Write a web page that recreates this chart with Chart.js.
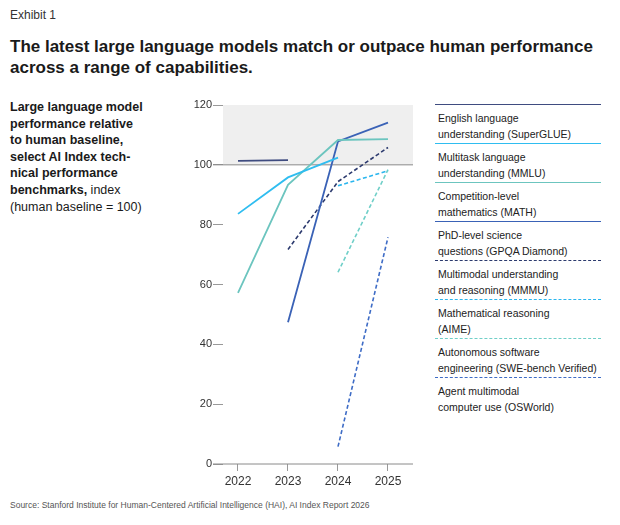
<!DOCTYPE html>
<html>
<head>
<meta charset="utf-8">
<script src="https://cdn.jsdelivr.net/npm/chart.js@4/dist/chart.umd.min.js"></script>
<style>
  body { margin: 0; background: #fff; font-family: "Liberation Sans", Arial, sans-serif; color: #222; }
  #page { position: relative; width: 620px; height: 525px; overflow: hidden; }
  .abs { position: absolute; }
  #exhibit { left: 10px; top: 8px; font-size: 12px; color: #333; }
  #title { left: 10px; top: 36px; width: 610px; font-size: 17px; font-weight: bold; line-height: 21px; color: #1a1a1a; }
  #sub { left: 10px; top: 99px; width: 175px; font-size: 12.5px; line-height: 16.6px; color: #1a1a1a; white-space: nowrap; }
  #sub b { font-weight: bold; }
  #chartBox { left: 180px; top: 90px; width: 240px; height: 410px; }
  #legend { left: 435px; top: 104px; width: 166px; }
  .item { height: 39px; box-sizing: border-box; padding: 5px 0 0 3px; font-size: 10.5px; line-height: 16px; color: #222; }
  #source { left: 10px; top: 500px; font-size: 8.5px; color: #555; }
</style>
</head>
<body>
<div id="page">
  <div id="exhibit" class="abs">Exhibit 1</div>
  <div id="title" class="abs">The latest large language models match or outpace human performance<br>across a range of capabilities.</div>
  <div id="sub" class="abs"><b>Large language model<br>performance relative<br>to human baseline,<br>select AI Index tech-<br>nical performance<br>benchmarks,</b> index<br>(human baseline = 100)</div>
  <div id="chartBox" class="abs"><canvas id="chart" width="240" height="410"></canvas></div>
  <div id="legend" class="abs"></div>
  <div id="source" class="abs">Source: Stanford Institute for Human-Centered Artificial Intelligence (HAI), AI Index Report 2026</div>
</div>
<script>
// данные
const years = [2022, 2023, 2024, 2025];
const yTicks = [0, 20, 40, 60, 80, 100, 120];
const baseline = 100;

const names = [
  'English language understanding (SuperGLUE)',
  'Multitask language understanding (MMLU)',
  'Competition-level mathematics (MATH)',
  'PhD-level science questions (GPQA Diamond)',
  'Multimodal understanding and reasoning (MMMU)',
  'Mathematical reasoning (AIME)',
  'Autonomous software engineering (SWE-bench Verified)',
  'Agent multimodal computer use (OSWorld)'
];
const legendLines = [
  ['English language', 'understanding (SuperGLUE)'],
  ['Multitask language', 'understanding (MMLU)'],
  ['Competition-level', 'mathematics (MATH)'],
  ['PhD-level science', 'questions (GPQA Diamond)'],
  ['Multimodal understanding', 'and reasoning (MMMU)'],
  ['Mathematical reasoning', '(AIME)'],
  ['Autonomous software', 'engineering (SWE-bench Verified)'],
  ['Agent multimodal', 'computer use (OSWorld)']
];

const superglue = [101.3, 101.6, null, null];
const mmlu      = [83.6, 95.8, 102.4, null];
const math      = [57.2, 93.3, 108.3, 108.6];
const gpqa      = [null, 47.4, 107.8, 114.1];
const mmmu      = [null, 71.7, 94.4, 105.8];
const aime      = [null, null, 93.0, 98.0];
const swebench  = [null, null, 64.1, 98.4];
const osworld   = [null, null, 5.8, 75.8];

const seriesValues = [superglue, mmlu, math, gpqa, mmmu, aime, swebench, osworld];
const colors = ['#3f4c80', '#2fbdf0', '#6cc5bf', '#3a62b6', '#2c3a6e', '#2ab6ee', '#6fcfc8', '#3e6cc6'];
const dashed = [false, false, false, false, true, true, true, true];

// легенда
const legendEl = document.getElementById('legend');
legendLines.forEach((lines, i) => {
  const div = document.createElement('div');
  div.className = 'item';
  div.style.borderTop = (dashed[i] ? '1.5px dashed ' : '1.5px solid ') + colors[i];
  div.innerHTML = lines.join('<br>');
  legendEl.appendChild(div);
});

// серая зона выше 100 и оси
const zonePlugin = {
  id: 'zone',
  beforeDatasetsDraw(chart) {
    const { ctx, chartArea, scales: { x, y } } = chart;
    const y100 = y.getPixelForValue(baseline);
    const yTop = y.getPixelForValue(120);
    ctx.save();
    ctx.fillStyle = '#efefef';
    ctx.fillRect(chartArea.left, yTop, chartArea.right - chartArea.left, y100 - yTop);
    ctx.strokeStyle = '#8a8a8a';
    ctx.lineWidth = 1;
    ctx.beginPath();
    ctx.moveTo(chartArea.left - 10, y100);
    ctx.lineTo(chartArea.right, y100);
    const y0 = y.getPixelForValue(0);
    ctx.moveTo(chartArea.left - 10, y0);
    ctx.lineTo(chartArea.right, y0);
    ctx.stroke();
    ctx.restore();
  }
};

const datasets = seriesValues.map((vals, i) => ({
  label: names[i],
  data: years.map((yr, j) => vals[j] == null ? null : { x: yr, y: vals[j] }).filter(p => p),
  borderColor: colors[i],
  backgroundColor: colors[i],
  borderWidth: dashed[i] ? 1.6 : 1.8,
  borderDash: dashed[i] ? [4, 2.5] : [],
  pointRadius: 0,
  tension: 0,
  fill: false
}));

new Chart(document.getElementById('chart'), {
  type: 'line',
  data: { datasets },
  options: {
    responsive: false,
    animation: false,
    layout: { padding: { top: 15, right: 7, left: 0, bottom: 0 } },
    scales: {
      x: {
        type: 'linear',
        min: 2021.7,
        max: 2025.5,
        afterBuildTicks: (s) => { s.ticks = years.map(v => ({ value: v })); },
        afterFit: (s) => { s.height = 36; },
        ticks: {
          font: { family: 'Liberation Sans', size: 12 },
          color: '#333',
          padding: 3,
          maxRotation: 0,
          callback: (v) => String(v)
        },
        grid: { drawOnChartArea: false, drawTicks: true, tickLength: 7, color: '#999' },
        border: { display: false }
      },
      y: {
        min: 0,
        max: 120,
        afterBuildTicks: (s) => { s.ticks = yTicks.map(v => ({ value: v })); },
        afterFit: (s) => { s.width = 43; },
        ticks: {
          font: { family: 'Liberation Sans', size: 11 },
          color: '#333',
          padding: 1
        },
        grid: { drawOnChartArea: false, drawTicks: true, tickLength: 10, color: '#999' },
        border: { display: false }
      }
    },
    plugins: {
      legend: { display: false },
      tooltip: { enabled: false }
    }
  },
  plugins: [zonePlugin]
});
</script>
</body>
</html>
